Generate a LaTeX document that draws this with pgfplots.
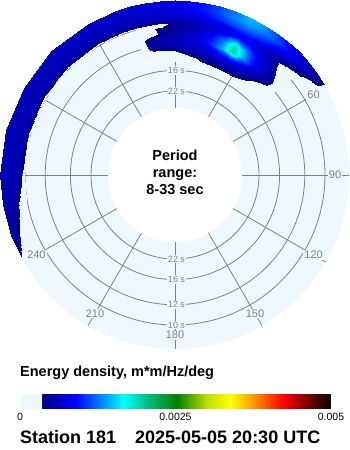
\documentclass[border=0pt]{standalone}
\usepackage{fontspec}
\setmainfont{Liberation Sans}
\usepackage{pgfplots}
\pgfplotsset{compat=1.18}
\usetikzlibrary{calc}
\definecolor{bgblue}{RGB}{240,248,255}
\definecolor{gridgray}{RGB}{128,128,128}
\pgfplotsset{colormap={cdip}{rgb255(0pt)=(240,248,255) rgb255(3.39pt)=(240,248,255) rgb255(3.4pt)=(0,0,128) rgb255(8.8pt)=(0,0,255) rgb255(12.9pt)=(0,128,255) rgb255(16.6pt)=(0,255,255) rgb255(20.4pt)=(0,192,128) rgb255(25.2pt)=(0,128,0) rgb255(30.1pt)=(192,224,0) rgb255(33.8pt)=(255,255,0) rgb255(37pt)=(255,165,0) rgb255(42.3pt)=(255,0,0) rgb255(46.1pt)=(128,0,0) rgb255(50pt)=(0,0,0)}}
\begin{document}
\begin{tikzpicture}[font=\fontsize{11}{13}\selectfont]
\begin{axis}[scale only axis, width=350pt, height=450pt,
  xmin=-175, xmax=175, ymin=-275, ymax=175, hide axis,
  colormap name=cdip, point meta min=0, point meta max=0.005,
  colorbar horizontal,
  colorbar style={at={($(parent axis.north west)+(20pt,-380pt)$)}, anchor=north west,
    scale only axis, width=311pt, height=20pt, scaled x ticks=false,
    xtick={0,0.0025,0.005}, xticklabels={0,0.0025,0.005}, xticklabel pos=lower,
    major tick length=0pt, axis line style={draw=none}, tick style={draw=none},
    xticklabel style={font=\fontsize{10.5}{12}\selectfont, inner sep=0pt, yshift=-4pt}},
]
\fill[white] (axis cs:-175,-275) rectangle (axis cs:175,175);
\fill[bgblue] (axis cs:0,0) circle[radius=174pt];
\draw[gridgray, line width=0.8pt] (axis cs:0,0) circle[radius=84pt];
\draw[gridgray, line width=0.8pt] (axis cs:0,0) circle[radius=104.6pt];
\draw[gridgray, line width=0.8pt] (axis cs:0,0) circle[radius=129.8pt];
\draw[gridgray, line width=0.8pt] (axis cs:0,0) circle[radius=150pt];
\pgfplotsinvokeforeach{0,30,...,330}{
  \draw[gridgray, line width=0.8pt] (axis cs:{67*sin(#1)},{67*cos(#1)}) -- (axis cs:{174*sin(#1)},{174*cos(#1)});
}
\pgfplotsinvokeforeach{270,300,330,0,30}{
  \node[fill=bgblue, inner sep=1pt, text=gridgray] at (axis cs:{160*sin(#1)},{160*cos(#1)}) {#1};
}
\node[fill=bgblue, inner sep=1pt, text=gridgray, font=\fontsize{9}{10}\selectfont] at (axis cs:1.5,84) {22 s};
\node[fill=bgblue, inner sep=1pt, text=gridgray, font=\fontsize{9}{10}\selectfont] at (axis cs:1.5,104.6) {16 s};
\node[fill=bgblue, inner sep=1pt, text=gridgray, font=\fontsize{9}{10}\selectfont] at (axis cs:1.5,129.8) {12 s};
\node[fill=bgblue, inner sep=1pt, text=gridgray, font=\fontsize{9}{10}\selectfont] at (axis cs:1.5,150) {10 s};
\node[fill=bgblue, inner sep=1pt, text=gridgray, font=\fontsize{9}{10}\selectfont] at (axis cs:1.5,-84) {22 s};
\node[fill=bgblue, inner sep=1pt, text=gridgray, font=\fontsize{9}{10}\selectfont] at (axis cs:1.5,-104.6) {16 s};
\node[fill=bgblue, inner sep=1pt, text=gridgray, font=\fontsize{9}{10}\selectfont] at (axis cs:1.5,-129.8) {12 s};
\node[fill=bgblue, inner sep=1pt, text=gridgray, font=\fontsize{9}{10}\selectfont] at (axis cs:1.5,-150) {10 s};
\fill[white] (axis cs:0,0) circle[radius=67pt];
\addplot[surf, shader=interp, unbounded coords=jump, point meta=\thisrow{e}]
 table[x expr={(29+1210*\thisrow{f})*sin(\thisrow{d})}, y expr={(29+1210*\thisrow{f})*cos(\thisrow{d})}] {
d f e
-120 nan 0
-120 nan 0
-120 nan 0
-120 nan 0
-120 nan 0
-120 nan 0
-120 nan 0
-120 0.110 0.0001
-120 0.115 0.0002
-120 0.1205 0.0003

-110 nan 0
-110 nan 0
-110 nan 0
-110 nan 0
-110 nan 0
-110 nan 0
-110 0.105 0.0001
-110 0.110 0.00025
-110 0.115 0.0004
-110 0.1205 0.0005

-100 nan 0
-100 nan 0
-100 nan 0
-100 nan 0
-100 nan 0
-100 0.1012 0.00015
-100 0.105 0.00028
-100 0.110 0.00045
-100 0.115 0.00052
-100 0.1205 0.00054

-90 nan 0
-90 nan 0
-90 nan 0
-90 nan 0
-90 nan 0
-90 0.1012 0.00026
-90 0.105 0.00046
-90 0.110 0.00055
-90 0.115 0.00058
-90 0.1205 0.00058

-75 nan 0
-75 nan 0
-75 nan 0
-75 nan 0
-75 nan 0
-75 0.1012 0.0003
-75 0.105 0.0005
-75 0.110 0.00056
-75 0.115 0.00058
-75 0.1205 0.00057

-60 nan 0
-60 nan 0
-60 nan 0
-60 nan 0
-60 nan 0
-60 0.1012 0.0003
-60 0.105 0.0005
-60 0.110 0.00056
-60 0.115 0.00058
-60 0.1205 0.00056

-45 nan 0
-45 nan 0
-45 nan 0
-45 nan 0
-45 nan 0
-45 0.1012 0.0003
-45 0.105 0.0005
-45 0.110 0.00057
-45 0.115 0.0006
-45 0.1205 0.00059

-30 nan 0
-30 nan 0
-30 nan 0
-30 nan 0
-30 nan 0
-30 0.1012 0.0003
-30 0.105 0.00052
-30 0.110 0.0006
-30 0.115 0.00063
-30 0.1205 0.00062

-20 nan 0
-20 nan 0
-20 nan 0
-20 nan 0
-20 nan 0
-20 0.1012 0.0003
-20 0.105 0.00054
-20 0.110 0.00062
-20 0.115 0.00066
-20 0.1205 0.00065

-15 nan 0
-15 0.076 0.00005
-15 0.082 0.00015
-15 0.088 0.0002
-15 0.094 0.00015
-15 0.1012 0.0003
-15 0.105 0.00055
-15 0.110 0.00063
-15 0.115 0.00068
-15 0.1205 0.00068

-10 nan 0
-10 0.076 0.0001
-10 0.082 0.00045
-10 0.088 0.0005
-10 0.094 0.00024
-10 0.1012 0.00031
-10 0.105 0.00056
-10 0.110 0.00065
-10 0.115 0.0007
-10 0.1205 0.0007

-5 nan 0
-5 0.076 0.00015
-5 0.082 0.0005
-5 0.088 0.00055
-5 0.094 0.0004
-5 0.1012 0.0003
-5 0.105 0.00058
-5 0.110 0.00068
-5 0.115 0.00073
-5 0.1205 0.00073

0 0.070 0.00005
0 0.076 0.0002
0 0.082 0.00052
0 0.088 0.00058
0 0.094 0.0005
0 0.1012 0.0004
0 0.105 0.0006
0 0.110 0.0007
0 0.115 0.00078
0 0.1205 0.00078

5 0.070 0.0001
5 0.076 0.00036
5 0.082 0.00055
5 0.088 0.00065
5 0.094 0.0006
5 0.1012 0.00048
5 0.105 0.00063
5 0.110 0.00075
5 0.115 0.00085
5 0.1205 0.00085

10 0.070 0.00015
10 0.076 0.00042
10 0.082 0.00062
10 0.088 0.00075
10 0.094 0.0007
10 0.1012 0.00055
10 0.105 0.00068
10 0.110 0.00085
10 0.115 0.00095
10 0.1205 0.00095

15 0.070 0.00029
15 0.076 0.00048
15 0.082 0.0007
15 0.088 0.001
15 0.094 0.0009
15 0.1012 0.00065
15 0.105 0.00075
15 0.110 0.001
15 0.115 0.0011
15 0.1205 0.0011

20 0.070 0.00031
20 0.076 0.00052
20 0.082 0.0008
20 0.088 0.0014
20 0.094 0.0013
20 0.1012 0.00075
20 0.105 0.0008
20 0.110 0.0011
20 0.115 0.0013
20 0.1205 0.00125

25 0.070 0.00032
25 0.076 0.00055
25 0.082 0.0009
25 0.088 0.002
25 0.094 0.0019
25 0.1012 0.0009
25 0.105 0.0009
25 0.110 0.0012
25 0.115 0.0014
25 0.1205 0.00145

30 0.070 0.00032
30 0.076 0.00053
30 0.082 0.0008
30 0.088 0.0014
30 0.094 0.0013
30 0.1012 0.0008
30 0.105 0.00085
30 0.110 0.00115
30 0.115 0.00135
30 0.1205 0.0014

35 0.070 0.00025
35 0.076 0.00046
35 0.082 0.00065
35 0.088 0.0009
35 0.094 0.00085
35 0.1012 0.00065
35 0.105 0.00075
35 0.110 0.001
35 0.115 0.0012
35 0.1205 0.00115

40 0.070 0.0001
40 0.076 0.00031
40 0.082 0.0005
40 0.088 0.00065
40 0.094 0.0006
40 0.1012 0.00052
40 0.105 0.00055
40 0.110 0.0008
40 0.115 0.001
40 0.1205 0.0009

45 nan 0
45 0.076 0.00015
45 0.082 0.00038
45 0.088 0.00045
45 0.094 0.00032
45 0.1012 0.0002
45 0.105 0.00036
45 0.110 0.00065
45 0.115 0.0008
45 0.1205 0.00075

50 nan 0
50 0.076 0.00005
50 0.082 0.0001
50 0.088 0.00005
50 0.094 0.00005
50 0.1012 0.0001
50 0.105 0.00025
50 0.110 0.00045
50 0.115 0.00065
50 0.1205 0.0006

55 nan 0
55 nan 0
55 nan 0
55 nan 0
55 nan 0
55 nan 0
55 0.105 0.00015
55 0.110 0.00025
55 0.115 0.00042
55 0.1205 0.00045

60 nan 0
60 nan 0
60 nan 0
60 nan 0
60 nan 0
60 nan 0
60 nan 0
60 0.110 0.00015
60 0.115 0.00028
60 0.1205 0.0003
};
\pgfplotsinvokeforeach{60,90,...,240}{
  \node[fill=bgblue, inner sep=1pt, text=gridgray] at (axis cs:{160*sin(#1)},{160*cos(#1)}) {#1};
}
\node[anchor=base, font=\bfseries\fontsize{14.5}{17}\selectfont] at (axis cs:0,14) {Period};
\node[anchor=base, font=\bfseries\fontsize{14.5}{17}\selectfont] at (axis cs:0,-3) {range:};
\node[anchor=base, font=\bfseries\fontsize{14.5}{17}\selectfont] at (axis cs:0,-20) {8-33 sec};
\node[anchor=base west, inner sep=0pt, font=\bfseries\fontsize{14.5}{17}\selectfont] at (axis cs:-155,-202) {Energy density, m*m/Hz/deg};
\node[anchor=base west, inner sep=0pt, font=\bfseries\fontsize{18}{21}\selectfont] at (axis cs:-155,-269) {Station 181};
\node[anchor=base west, inner sep=0pt, font=\bfseries\fontsize{18}{21}\selectfont] at (axis cs:-40,-269) {2025-05-05 20:30 UTC};
\end{axis}
\end{tikzpicture}
\end{document}
